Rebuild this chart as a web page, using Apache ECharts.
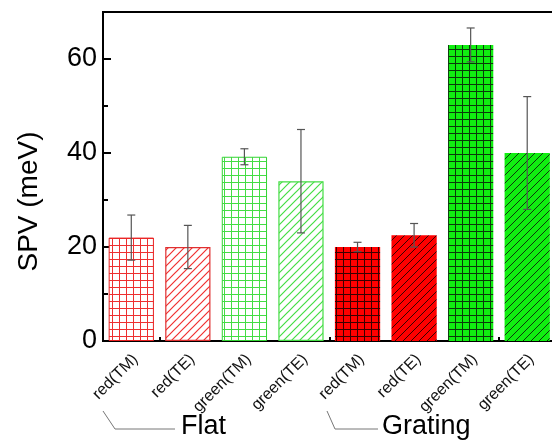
<!DOCTYPE html>
<html>
<head>
<meta charset="utf-8">
<script src="https://cdn.jsdelivr.net/npm/echarts@6/dist/echarts.min.js"></script>
<style>
html,body{margin:0;padding:0;background:#fff;}
#chart{width:552px;height:443px;}
</style>
</head>
<body>
<div id="chart"></div>
<script>
// ---- data ----
const categories = ['red(TM)', 'red(TE)', 'green(TM)', 'green(TE)', 'red(TM)', 'red(TE)', 'green(TM)', 'green(TE)'];
const spvValues = [22, 20, 39.2, 34, 20, 22.5, 63, 40];
const spvErrors = [4.8, 4.6, 1.7, 11, 1.0, 2.5, 3.6, 12];
const groupLabels = ['Flat', 'Grating'];
const yTickLabels = [0, 20, 40, 60];
const xTickValues = [1, 2.5, 4, 5.5, 7];

// ---- styles (patterns) ----
function gridPattern(bg, line, sx, sy) {
  const c = document.createElement('canvas');
  c.width = sx; c.height = sy;
  const g = c.getContext('2d');
  g.fillStyle = bg; g.fillRect(0, 0, sx, sy);
  g.strokeStyle = line; g.lineWidth = 1;
  g.beginPath();
  g.moveTo(0.5, 0); g.lineTo(0.5, sy);
  g.moveTo(0, 0.5); g.lineTo(sx, 0.5);
  g.stroke();
  return { image: c, repeat: 'repeat' };
}
function diagPattern(bg, line, s, lw) {
  const c = document.createElement('canvas');
  c.width = s; c.height = s;
  const g = c.getContext('2d');
  g.fillStyle = bg; g.fillRect(0, 0, s, s);
  g.strokeStyle = line; g.lineWidth = lw;
  g.beginPath();
  g.moveTo(-1, s + 1); g.lineTo(s + 1, -1);
  g.moveTo(-1, 1); g.lineTo(1, -1);
  g.moveTo(s - 1, s + 1); g.lineTo(s + 1, s - 1);
  g.stroke();
  return { image: c, repeat: 'repeat' };
}
const styles = [
  { color: gridPattern('#ffffff', '#ee3030', 7, 7), borderColor: '#e82020', borderWidth: 1 },
  { color: diagPattern('#ffffff', '#f03030', 8, 1.2), borderColor: '#e03030', borderWidth: 1.2 },
  { color: gridPattern('#ffffff', '#44dd44', 7, 7), borderColor: '#33d433', borderWidth: 1 },
  { color: diagPattern('#ffffff', '#44dd44', 8, 1.2), borderColor: '#44dd44', borderWidth: 1.2 },
  { color: gridPattern('#ff0000', '#3a0000', 7, 7), borderColor: '#ff0000', borderWidth: 0 },
  { color: diagPattern('#ff0000', '#3a0000', 8, 1), borderColor: '#ff0000', borderWidth: 0 },
  { color: gridPattern('#11ee11', '#0a3a0a', 7, 7), borderColor: '#11ee11', borderWidth: 0 },
  { color: diagPattern('#11ee11', '#0a3a0a', 8, 1), borderColor: '#11ee11', borderWidth: 0 }
];

const barData = spvValues.map((v, i) => ({ value: v, itemStyle: styles[i] }));
const errData = spvValues.map((v, i) => [i, v - spvErrors[i], v + spvErrors[i]]);

const chart = echarts.init(document.getElementById('chart'), null, { renderer: 'canvas' });
const FONT = 'Liberation Sans, Arial, sans-serif';

chart.setOption({
  animation: false,
  backgroundColor: '#ffffff',
  grid: {
    left: 103, top: 12, right: -3.5, bottom: 102,
    show: true, borderColor: '#000', borderWidth: 2, backgroundColor: 'transparent',
    containLabel: false, outerBoundsMode: 'none'
  },
  xAxis: [
    {
      type: 'category', data: categories, boundaryGap: true,
      axisLine: { show: true, lineStyle: { color: '#000', width: 2 } },
      axisTick: { show: false },
      axisLabel: { rotate: 45, fontSize: 16, color: '#111', fontFamily: FONT, margin: 20, interval: 0, padding: [0, -6, 0, 0] },
      splitLine: { show: false }
    },
    {
      type: 'value', min: 0, max: 8, position: 'bottom',
      axisLine: { show: false },
      axisTick: { show: true, inside: true, length: 4, lineStyle: { color: '#000', width: 2 }, customValues: xTickValues },
      axisLabel: { show: false },
      splitLine: { show: false }
    }
  ],
  yAxis: [
    {
      type: 'value', min: 0, max: 70, interval: 20,
      name: 'SPV (meV)', nameLocation: 'middle', nameGap: 60, nameRotate: 90,
      nameTextStyle: { fontSize: 28, color: '#000', fontFamily: FONT, padding: [0, 50, 0, 0] },
      axisLine: { show: true, lineStyle: { color: '#000', width: 2 } },
      axisTick: { show: true, inside: true, length: 8, lineStyle: { color: '#000', width: 2 } },
      axisLabel: {
        fontSize: 27, color: '#000', fontFamily: FONT, margin: 6,
        formatter: v => (yTickLabels.indexOf(v) >= 0 ? String(v) : '')
      },
      splitLine: { show: false }
    },
    {
      type: 'value', min: 0, max: 70, interval: 10, position: 'left', offset: 0,
      axisLine: { show: false },
      axisTick: { show: true, inside: true, length: 5, lineStyle: { color: '#000', width: 2 } },
      axisLabel: { show: false },
      splitLine: { show: false }
    }
  ],
  series: [
    {
      type: 'bar', xAxisIndex: 0, yAxisIndex: 0, barWidth: '80%',
      data: barData, z: 2
    },
    {
      type: 'custom', xAxisIndex: 0, yAxisIndex: 0, z: 5,
      data: errData,
      encode: { x: 0, y: [1, 2] },
      renderItem: function (params, api) {
        const lo = api.coord([api.value(0), api.value(1)]);
        const hi = api.coord([api.value(0), api.value(2)]);
        const w = 4;
        const st = { stroke: '#555', lineWidth: 1.2 };
        return {
          type: 'group',
          children: [
            { type: 'line', shape: { x1: hi[0], y1: hi[1], x2: lo[0], y2: lo[1] }, style: st },
            { type: 'line', shape: { x1: hi[0] - w, y1: hi[1], x2: hi[0] + w, y2: hi[1] }, style: st },
            { type: 'line', shape: { x1: lo[0] - w, y1: lo[1], x2: lo[0] + w, y2: lo[1] }, style: st }
          ]
        };
      }
    }
  ],
  graphic: [
    { type: 'polyline', shape: { points: [[103, 411], [115, 429], [175, 429]] }, style: { stroke: '#777', lineWidth: 1, fill: null } },
    { type: 'polyline', shape: { points: [[327, 411], [335, 429], [378, 429]] }, style: { stroke: '#777', lineWidth: 1, fill: null } },
    { type: 'text', left: 181, top: 413, style: { text: groupLabels[0], fontSize: 27, fill: '#000', fontFamily: FONT } },
    { type: 'text', left: 382, top: 413, style: { text: groupLabels[1], fontSize: 27, fill: '#000', fontFamily: FONT } }
  ]
});
</script>
</body>
</html>
